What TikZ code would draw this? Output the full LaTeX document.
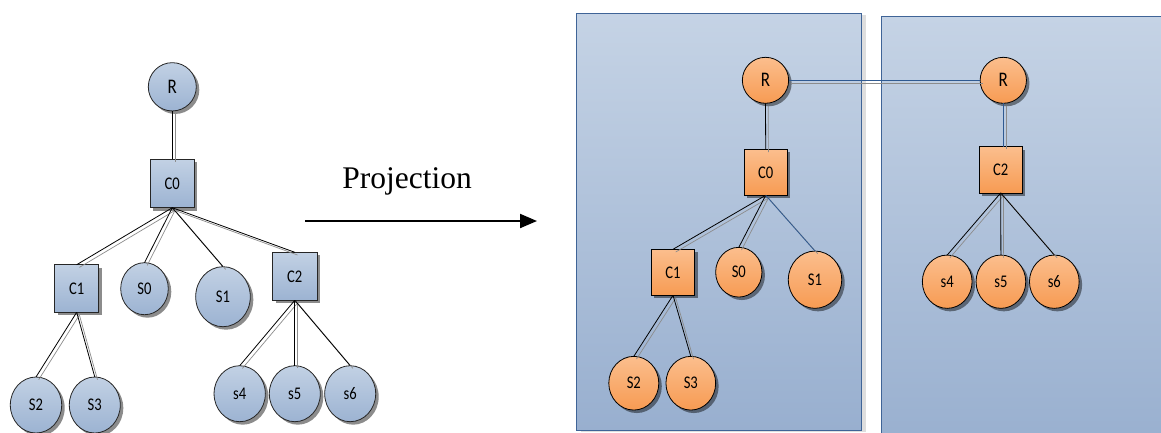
\documentclass[tikz,border=0pt]{standalone}
\usepackage{fontspec}
\setmainfont{Carlito}
\newfontfamily\serifproj{Liberation Serif}
\usetikzlibrary{shapes.geometric,shadows,arrows.meta}
\definecolor{pborder}{HTML}{3F6497}
\definecolor{ptop}{HTML}{C5D3E5}
\definecolor{pbot}{HTML}{98AFCF}
\definecolor{btop}{HTML}{C2D1E4}
\definecolor{bbot}{HTML}{9CB3D2}
\definecolor{otop}{HTML}{FBBE8D}
\definecolor{obot}{HTML}{F79B53}
\definecolor{linkblue}{HTML}{2F5A92}
\newcommand{\lbl}[1]{\scalebox{1}[1.22]{#1}}
\tikzset{
  base node/.style={inner sep=0pt,outer sep=0pt,draw=black!85,line width=0.8pt,font=\fontsize{14.6}{14.6}\selectfont,
    drop shadow={shadow xshift=3pt,shadow yshift=-3pt,fill=black,opacity=0.45}},
  blue node/.style={base node,top color=btop,bottom color=bbot},
  orange node/.style={base node,top color=otop,bottom color=obot,draw=black},
  el/.style={ellipse},
  sq/.style={rectangle},
  rootfont/.style={font=\fontsize{17}{17}\selectfont},
  panel/.style={rectangle,inner sep=0pt,outer sep=0pt,draw=pborder,line width=0.9pt,top color=ptop,bottom color=pbot},
  conn/.style={draw=black,line width=0.8pt},
  connblue/.style={draw=linkblue,line width=0.8pt},
  ghost/.style={draw=black!45,line width=0.7pt,transform canvas={shift={(2.7,2.7)}}},
  nd/.style n args={2}{minimum width=#1,minimum height=#2},
}
\newcommand{\pair}[3][conn]{\draw[ghost] (#2) -- (#3); \draw[#1] (#2) -- (#3);}
\begin{document}
\begin{tikzpicture}[x=1pt,y=-1pt]
\useasboundingbox (0,0) rectangle (1161,432);
\fill[white] (0,0) rectangle (1161,432);
% panels
\node[panel,minimum width=285pt,minimum height=417pt,drop shadow={shadow xshift=4pt,shadow yshift=-1pt,fill=black!25}] (pl) at (719.3,222.2) {};
\node[panel,minimum width=290pt,minimum height=434pt] (pr) at (1026.6,233.3) {};
% left tree
\node[blue node,el,rootfont,nd={48pt}{48.3pt}] (R) at (172.3,86.8) {\lbl{R}};
\node[blue node,sq,nd={44pt}{48.4pt}] (C0) at (172.3,183.5) {\lbl{C0}};
\node[blue node,sq,nd={44pt}{47.6pt}] (C1) at (76.7,288.5) {\lbl{C1}};
\node[blue node,el,nd={47.6pt}{52pt}] (S0) at (144.5,288.7) {\lbl{S0}};
\node[blue node,el,nd={54.6pt}{60pt}] (S1) at (223,296.7) {\lbl{S1}};
\node[blue node,sq,nd={44.3pt}{48pt}] (C2) at (294.8,276.3) {\lbl{C2}};
\node[blue node,el,nd={51.4pt}{56pt}] (S2) at (36,405) {\lbl{S2}};
\node[blue node,el,nd={51pt}{56pt}] (S3) at (94.8,405) {\lbl{S3}};
\node[blue node,el,nd={51.3pt}{56pt}] (s4) at (239.7,393.7) {\lbl{s4}};
\node[blue node,el,nd={51pt}{56pt}] (s5) at (294.8,393.7) {\lbl{s5}};
\node[blue node,el,nd={51pt}{56pt}] (s6) at (350.2,393.7) {\lbl{s6}};
\pair{R.south}{C0.north}
\pair{C0.south}{C1.north}
\pair{C0.south}{S0.north}
\pair{C0.south}{S1.north}
\pair{C0.south}{C2.north}
\pair{C1.south}{S2.north}
\pair{C1.south}{S3.north}
\pair{C2.south}{s4.north}
\pair{C2.south}{s5.north}
\pair{C2.south}{s6.north}
% projection
\node[font=\fontsize{31.5}{31.5}\serifproj,anchor=base,inner sep=0pt] (proj) at (407,188) {Projection};
\coordinate (a1) at (305,221);
\coordinate (a2) at (537,221);
\draw[line width=2pt,-{Triangle[length=17pt,width=14pt]}] (a1) -- (a2);
% right trees
\node[orange node,el,rootfont,nd={46.3pt}{46pt}] (Ra) at (765.5,80.3) {\lbl{R}};
\node[orange node,el,rootfont,nd={46.3pt}{46pt}] (Rb) at (1003.3,80.3) {\lbl{R}};
\node[orange node,sq,nd={43pt}{46pt}] (C0a) at (765.7,172.3) {\lbl{C0}};
\node[orange node,sq,nd={42.5pt}{46.3pt}] (C2b) at (1000.7,169.8) {\lbl{C2}};
\node[orange node,sq,nd={43.3pt}{46pt}] (C1a) at (673,272.3) {\lbl{C1}};
\node[orange node,el,nd={46.3pt}{49.7pt}] (S0a) at (738.8,272.2) {\lbl{S0}};
\node[orange node,el,nd={53.4pt}{57.3pt}] (S1a) at (815,279.7) {\lbl{S1}};
\node[orange node,el,nd={50pt}{53.7pt}] (S2a) at (633.8,383.2) {\lbl{S2}};
\node[orange node,el,nd={49.7pt}{53.7pt}] (S3a) at (690.8,383.2) {\lbl{S3}};
\node[orange node,el,nd={49.7pt}{53.3pt}] (s4b) at (947.2,281.7) {\lbl{s4}};
\node[orange node,el,nd={49.7pt}{53.3pt}] (s5b) at (1000.9,281.7) {\lbl{s5}};
\node[orange node,el,nd={49.7pt}{53.3pt}] (s6b) at (1054.3,281.7) {\lbl{s6}};
\pair[connblue]{Ra.east}{Rb.west}
\pair{Ra.south}{C0a.south |- C0a.north}
\pair[connblue]{Rb.south}{Rb.south |- C2b.north}
\pair{C0a.south}{C1a.north}
\pair{C0a.south}{S0a.north}
\pair[connblue]{C0a.south}{S1a.north}
\pair{C1a.south}{S2a.north}
\pair{C1a.south}{S3a.north}
\pair{C2b.south}{s4b.north}
\pair{C2b.south}{s5b.north}
\pair{C2b.south}{s6b.north}
\end{tikzpicture}
\end{document}
